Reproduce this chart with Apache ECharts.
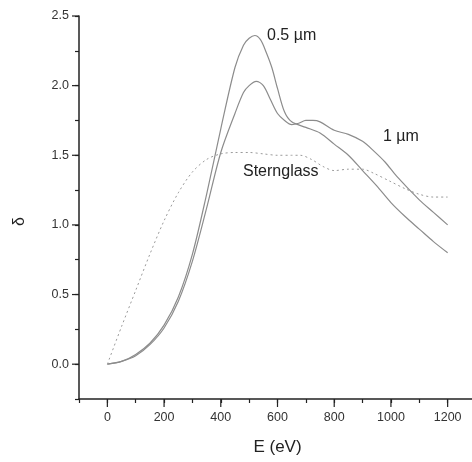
<!DOCTYPE html>
<html>
<head>
<meta charset="utf-8">
<script src="https://cdn.jsdelivr.net/npm/echarts@6/dist/echarts.min.js"></script>
<style>
  html, body { margin: 0; padding: 0; background: #fff; }
  #chart { width: 472px; height: 462px; }
</style>
</head>
<body>
<div id="chart"></div>
<script>
// 0.5 um film
var thinE = [0, 50, 100, 150, 200, 250, 300, 350, 400, 450, 480, 500, 520, 540, 560, 580, 600, 625, 650, 700, 750, 800, 850, 900, 950, 1000, 1050, 1100, 1150, 1200];
var thinD = [0, 0.02, 0.07, 0.15, 0.28, 0.48, 0.79, 1.22, 1.69, 2.13, 2.29, 2.34, 2.36, 2.33, 2.24, 2.13, 1.98, 1.81, 1.74, 1.70, 1.66, 1.58, 1.50, 1.39, 1.28, 1.16, 1.06, 0.97, 0.88, 0.80];
// 1 um film
var thickE = [0, 50, 100, 150, 200, 250, 300, 350, 400, 450, 480, 500, 525, 550, 575, 600, 625, 650, 675, 700, 725, 750, 800, 850, 900, 940, 980, 1020, 1100, 1150, 1200];
var thickD = [0, 0.02, 0.06, 0.14, 0.26, 0.45, 0.74, 1.12, 1.52, 1.80, 1.95, 2.00, 2.03, 2.00, 1.90, 1.80, 1.75, 1.72, 1.73, 1.75, 1.75, 1.74, 1.68, 1.65, 1.60, 1.53, 1.45, 1.35, 1.18, 1.09, 1.00];
// Sternglass
var sternE = [0, 50, 100, 150, 200, 250, 300, 350, 400, 450, 500, 550, 600, 650, 680, 720, 760, 800, 850, 900, 940, 1000, 1050, 1100, 1150, 1200];
var sternD = [0, 0.27, 0.53, 0.79, 1.03, 1.23, 1.38, 1.47, 1.51, 1.52, 1.52, 1.51, 1.50, 1.50, 1.50, 1.47, 1.42, 1.39, 1.40, 1.40, 1.37, 1.31, 1.26, 1.22, 1.20, 1.20];

// axes
var xMin = -100, xMax = 1300, xMinorStep = 100;
var yMin = -0.25, yMax = 2.5, yMinorStep = 0.25;
var xMajor = [0, 200, 400, 600, 800, 1000, 1200];
var yMajor = [0, 0.5, 1.0, 1.5, 2.0, 2.5];

function zip(xs, ys) {
	var out = [];
	for (var i = 0; i < xs.length; i++) {
		out.push([xs[i], ys[i]]);
	}
	return out;
}

var font = 'Liberation Sans, Arial, sans-serif';
var axisColor = '#222';

var myChart = echarts.init(document.getElementById('chart'));
var option = {
	animation: false,
	grid: { left: 79, top: 16, right: -4, bottom: 63, outerBoundsMode: 'none', containLabel: false },
	xAxis: {
		type: 'value',
		min: xMin,
		max: xMax,
		interval: xMinorStep,
		splitLine: { show: false },
		axisLine: { show: true, onZero: false, lineStyle: { color: axisColor, width: 1.5 } },
		axisTick: { show: true, length: 4, lineStyle: { color: axisColor, width: 1.2 } },
		axisLabel: {
			margin: 12, color: '#333', fontSize: 12.5, fontFamily: font,
			formatter: function (v) {
				return xMajor.indexOf(v) >= 0 ? String(v) : '';
			}
		},
		name: 'E (eV)',
		nameLocation: 'middle',
		nameGap: 40,
		nameTextStyle: { color: '#222', fontSize: 17, fontFamily: font }
	},
	yAxis: {
		type: 'value',
		min: yMin,
		max: yMax,
		interval: yMinorStep,
		splitLine: { show: false },
		axisLine: { show: true, onZero: false, lineStyle: { color: axisColor, width: 1.5 } },
		axisTick: { show: true, length: 4, lineStyle: { color: axisColor, width: 1.2 } },
		axisLabel: {
			margin: 10, color: '#333', fontSize: 12.5, fontFamily: font,
			formatter: function (v) {
				for (var i = 0; i < yMajor.length; i++) {
					if (Math.abs(yMajor[i] - v) < 1e-6) return yMajor[i].toFixed(1);
				}
				return '';
			}
		}
	},
	series: [{
		name: '0.5 µm',
		type: 'line',
		smooth: 0.3,
		showSymbol: false,
		lineStyle: { color: '#8c8c8c', width: 1.2 },
		data: zip(thinE, thinD)
	}, {
		name: '1 µm',
		type: 'line',
		smooth: 0.3,
		showSymbol: false,
		lineStyle: { color: '#8c8c8c', width: 1.2 },
		data: zip(thickE, thickD)
	}, {
		name: 'Sternglass',
		type: 'line',
		smooth: 0.3,
		showSymbol: false,
		lineStyle: { color: '#9a9a9a', width: 1, type: [2, 3] },
		data: zip(sternE, sternD)
	}]
};
myChart.setOption(option);

// text annotations plus the long (major) tick marks, placed through the axes' scales
var graphics = [{
	type: 'text', left: 267, top: 28,
	style: { text: '0.5 µm', fill: '#222', fontSize: 16, fontFamily: font }
}, {
	type: 'text', left: 383, top: 129,
	style: { text: '1 µm', fill: '#222', fontSize: 16, fontFamily: font }
}, {
	type: 'text', left: 243, top: 164,
	style: { text: 'Sternglass', fill: '#222', fontSize: 16, fontFamily: font }
}, {
	type: 'text', x: 12, y: 226, rotation: Math.PI / 2,
	style: { text: 'δ', fill: '#222', fontSize: 16, fontFamily: font }
}];
var tickStyle = { stroke: axisColor, lineWidth: 1.2 };
xMajor.forEach(function (v) {
	var p = myChart.convertToPixel({ gridIndex: 0 }, [v, yMin]);
	graphics.push({ type: 'line', silent: true, shape: { x1: p[0], y1: p[1], x2: p[0], y2: p[1] + 8 }, style: tickStyle });
});
yMajor.forEach(function (v) {
	var p = myChart.convertToPixel({ gridIndex: 0 }, [xMin, v]);
	graphics.push({ type: 'line', silent: true, shape: { x1: p[0] - 7, y1: p[1], x2: p[0], y2: p[1] }, style: tickStyle });
});
myChart.setOption({ graphic: graphics });
</script>
</body>
</html>
